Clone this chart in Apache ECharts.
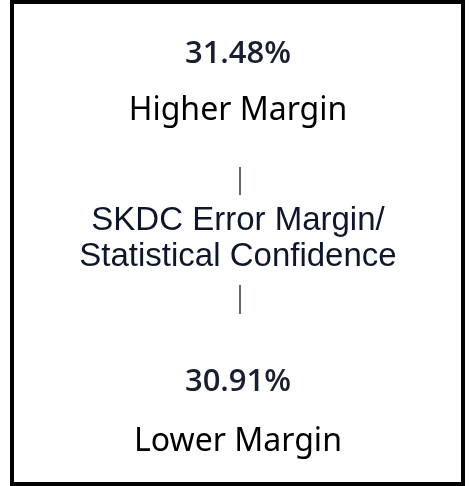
<!DOCTYPE html>
<html>
<head>
<meta charset="utf-8">
<script src="https://cdn.jsdelivr.net/npm/echarts@6/dist/echarts.min.js"></script>
<style>
html, body { margin:0; padding:0; background:#ffffff; }
#main { width:469px; height:486px; }
</style>
</head>
<body>
<div id="main"></div>
<script>
// margin values shown on the card (percent)
var marginValues = [31.48, 30.91]
var marginLabels = ['Higher Margin', 'Lower Margin']
var centerLines = ['SKDC Error Margin/', 'Statistical Confidence']

var myChart = echarts.init(document.getElementById('main'));

var cx = 238
var numFont = '600 31px "Open Sans", "Noto Sans", sans-serif'
var labelFont = '32px "Noto Sans", "Open Sans", sans-serif'
var centerFont = '33px "Liberation Sans", Arial, sans-serif'

function txt(text, y, font, color){
    return {
        type:'text',
        x:cx,
        y:y,
        style:{
            text:text,
            font:font,
            fill:color,
            align:'center',
            verticalAlign:'middle'
        }
    }
}

function vline(y1, y2){
    return {
        type:'line',
        shape:{x1:240, y1:y1, x2:240, y2:y2},
        style:{stroke:'#2c3447', lineWidth:1.5}
    }
}

var elements = [
    {
        type:'rect',
        shape:{x:12, y:2, width:451, height:482},
        style:{fill:'#ffffff', stroke:'#000000', lineWidth:4}
    },
    txt(marginValues[0].toFixed(2) + '%', 54, numFont, '#18202f'),
    txt(marginLabels[0], 111, labelFont, '#000000'),
    vline(167, 195),
    txt(centerLines[0], 221, centerFont, '#0e172a'),
    txt(centerLines[1], 257, centerFont, '#0e172a'),
    vline(285, 314),
    txt(marginValues[1].toFixed(2) + '%', 382, numFont, '#18202f'),
    txt(marginLabels[1], 442, labelFont, '#000000')
]

var option = {
    backgroundColor:'#ffffff',
    animation:false,
    graphic:{elements:elements}
}
myChart.setOption(option);
</script>
</body>
</html>
